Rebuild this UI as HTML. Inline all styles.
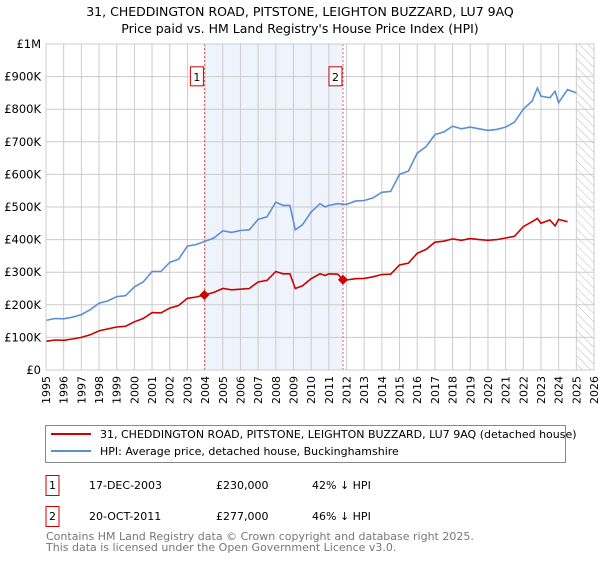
<!DOCTYPE html>
<html><head><meta charset="utf-8"><style>
body{margin:0;background:#fff;font-family:"Liberation Sans","DejaVu Sans",sans-serif}
svg text{font-family:"DejaVu Sans","Liberation Sans",sans-serif}
</style></head><body>
<svg id="c" width="600" height="560" viewBox="0 0 600 560">
<defs><pattern id="hatch" width="6" height="6" patternUnits="userSpaceOnUse" patternTransform="rotate(-45)"><line x1="0" y1="0" x2="0" y2="6" stroke="#bbb" stroke-width="1"/></pattern></defs>
<text x="300" y="16" text-anchor="middle" font-size="12.5">31, CHEDDINGTON ROAD, PITSTONE, LEIGHTON BUZZARD, LU7 9AQ</text>
<text x="300" y="33" text-anchor="middle" font-size="12.5">Price paid vs. HM Land Registry's House Price Index (HPI)</text>
<g id="plot"></g>
<rect x="45.5" y="425.5" width="520" height="37" fill="#fff" stroke="#888"/>
<line x1="51" y1="434" x2="91" y2="434" stroke="#cc0000" stroke-width="2"/>
<text x="100" y="438" font-size="11">31, CHEDDINGTON ROAD, PITSTONE, LEIGHTON BUZZARD, LU7 9AQ (detached house)</text>
<line x1="51" y1="451" x2="91" y2="451" stroke="#5b8fd4" stroke-width="2"/>
<text x="100" y="455" font-size="11">HPI: Average price, detached house, Buckinghamshire</text>
<g>
<rect x="46" y="475.5" width="13" height="20" fill="#fff" stroke="#cc0000"/><text x="52.5" y="489" text-anchor="middle" font-size="11">1</text>
<text x="89" y="489" font-size="11">17-DEC-2003</text><text x="216" y="489" font-size="11">£230,000</text><text x="312" y="489" font-size="11">42% ↓ HPI</text></g>
<g>
<rect x="46" y="506.5" width="13" height="20" fill="#fff" stroke="#cc0000"/><text x="52.5" y="520" text-anchor="middle" font-size="11">2</text>
<text x="89" y="520" font-size="11">20-OCT-2011</text><text x="216" y="520" font-size="11">£277,000</text><text x="312" y="520" font-size="11">46% ↓ HPI</text></g>
<text x="46" y="540" font-size="11" fill="#777">Contains HM Land Registry data © Crown copyright and database right 2025.</text>
<text x="46" y="551" font-size="11" fill="#777">This data is licensed under the Open Government Licence v3.0.</text>
</svg>
<script>
const hpiYears=[1995,1995.5,1996,1996.5,1997,1997.5,1998,1998.5,1999,1999.5,2000,2000.5,2001,2001.5,2002,2002.5,2003,2003.5,2004,2004.5,2005,2005.5,2006,2006.5,2007,2007.5,2008,2008.4,2008.8,2009.1,2009.5,2010,2010.5,2010.8,2011,2011.5,2012,2012.5,2013,2013.5,2014,2014.5,2015,2015.5,2016,2016.5,2017,2017.5,2018,2018.5,2019,2019.5,2020,2020.5,2021,2021.5,2022,2022.5,2022.8,2023,2023.5,2023.8,2024,2024.5,2025];
const hpiValues=[152,158,157,162,170,185,205,212,225,228,255,270,302,302,330,340,380,385,395,405,427,422,428,430,462,470,515,505,505,430,445,485,510,500,505,510,508,518,520,528,545,548,600,610,665,685,722,730,748,740,745,740,735,738,745,760,800,825,865,840,835,855,820,860,850];
const redYears=[1995,1995.5,1996,1996.5,1997,1997.5,1998,1998.5,1999,1999.5,2000,2000.5,2001,2001.5,2002,2002.5,2003,2003.5,2003.96,2004.5,2005,2005.5,2006,2006.5,2007,2007.5,2008,2008.4,2008.8,2009.1,2009.5,2010,2010.5,2010.8,2011,2011.5,2011.8,2012,2012.5,2013,2013.5,2014,2014.5,2015,2015.5,2016,2016.5,2017,2017.5,2018,2018.5,2019,2019.5,2020,2020.5,2021,2021.5,2022,2022.5,2022.8,2023,2023.5,2023.8,2024,2024.5,2025];
const redValues=[88,92,91,95,100,108,120,126,132,134,148,158,176,175,190,198,220,224,230,238,250,246,248,250,270,275,302,295,295,250,258,280,295,290,295,294,277,276,280,281,286,293,294,322,328,358,370,392,395,402,398,403,400,398,400,405,410,440,455,465,450,460,442,462,455];
const sales=[{t:2003.96,v:230,n:"1"},{t:2011.8,v:277,n:"2"}];
const yTicks=[0,100,200,300,400,500,600,700,800,900,1000];
const yLabels=["£0","£100K","£200K","£300K","£400K","£500K","£600K","£700K","£800K","£900K","£1M"];
const X0=46,X1=594,Y0=370,Y1=44;
const x=t=>X0+(t-1995)/(2026-1995)*(X1-X0);
const y=v=>Y0-v/1000*(Y0-Y1);
const NS="http://www.w3.org/2000/svg",g=document.getElementById("plot");
function mk(tag,a,p){const e=document.createElementNS(NS,tag);for(const k in a)e.setAttribute(k,a[k]);(p||g).appendChild(e);return e;}
let e=mk("rect",{x:x(sales[0].t),y:Y1,width:x(sales[1].t)-x(sales[0].t),height:Y0-Y1,fill:"#eef3fc"});


e=mk("rect",{x:x(2025),y:Y1,width:X1-x(2025),height:Y0-Y1,fill:"url(#hatch)"});


for(let yr=1995;yr<=2026;yr++){
 e=mk("line",{x1:x(yr),x2:x(yr),y1:Y1,y2:Y0,stroke:"#ccc","stroke-width":1});
 
 
 e=mk("text",{x:0,y:0,"font-size":11,"text-anchor":"end",transform:`translate(${x(yr)+4},${Y0+6}) rotate(-90)`});
 e.textContent=yr;
 
 
}
yTicks.forEach((v,i)=>{
 e=mk("line",{x1:X0,x2:X1,y1:y(v),y2:y(v),stroke:"#ccc","stroke-width":1});
 
 
 e=mk("text",{x:X0-5,y:y(v)+4,"font-size":11.5,"text-anchor":"end"});
 e.textContent=yLabels[i];
 
 
});
sales.forEach(s=>{
 e=mk("line",{x1:x(s.t),x2:x(s.t),y1:Y1,y2:Y0,stroke:"#e06060","stroke-width":1,"stroke-dasharray":"2,2"});
 
 
});
function path(xs,vs,col,name){
 const d=xs.map((t,i)=>(i?"L":"M")+x(t).toFixed(1)+","+y(vs[i]).toFixed(1)).join("");
 const p=mk("path",{d,fill:"none",stroke:col,"stroke-width":1.6});
 
 
}
path(hpiYears,hpiValues,"#5b8fd4","hpi-line");
path(redYears,redValues,"#cc0000","price-line");
sales.forEach(s=>{
 const cx=x(s.t),cy=y(s.v);
 e=mk("polygon",{points:`${cx},${cy-5} ${cx+5},${cy} ${cx},${cy+5} ${cx-5},${cy}`,fill:"#cc0000"});
 
 
 e=mk("rect",{x:cx-14,y:y(930),width:13,height:19,fill:"#fff",stroke:"#cc0000"});
 
 
 e=mk("text",{x:cx-7.5,y:y(930)+14,"font-size":11,"text-anchor":"middle"});
 e.textContent=s.n;
 
 
});
e=mk("rect",{x:X0,y:Y1,width:X1-X0,height:Y0-Y1,fill:"none",stroke:"#ccc"});


</script>
</body></html>
